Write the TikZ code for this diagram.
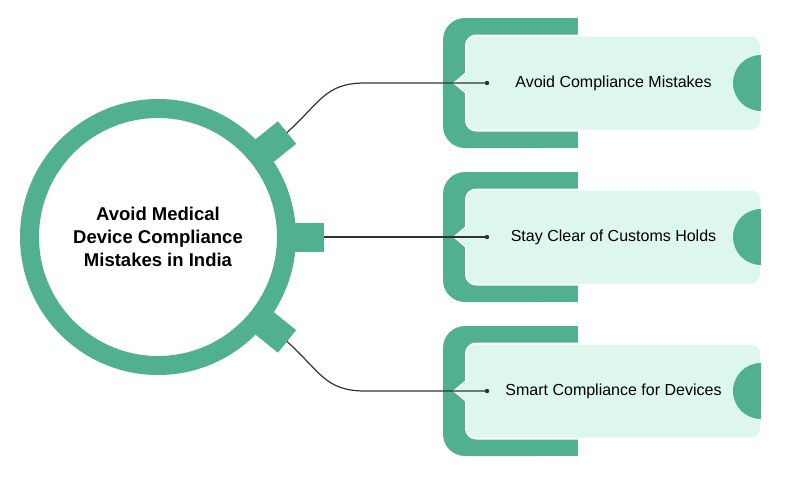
\documentclass[tikz,border=0pt]{standalone}
\usepackage{fontspec}
\setmainfont{Liberation Sans}
\usetikzlibrary{calc}
\usetikzlibrary{positioning}
\definecolor{ringgreen}{HTML}{50B08F}
\definecolor{cardmint}{HTML}{DDF7EC}
\definecolor{linkgray}{HTML}{333333}

\tikzset{
  hub/.style={circle, draw=ringgreen, line width=19pt, minimum size=257pt, fill=white,
    align=center, font=\bfseries\fontsize{18.5}{23}\selectfont},
  tab/.style={fill=ringgreen, minimum width=40pt, minimum height=29pt, inner sep=0pt, outer sep=0pt},
  card/.style={rounded corners=10pt, fill=cardmint, draw=white, line width=2pt,
    minimum width=295pt, minimum height=95pt, outer sep=0pt, font=\fontsize{16}{19}\selectfont},
  backing/.style={fill=ringgreen},
  link/.style={draw=linkgray, line width=1.2pt}
}

\begin{document}
\begin{tikzpicture}[x=1pt, y=-1pt]
\useasboundingbox (0,0) rectangle (805,480);

%hub
\node[hub] (hub) at (158,237) {Avoid Medical\\Device Compliance\\Mistakes in India};
\node[tab, rotate=39] (tabA) at ($(hub.center)+(-39:146)$) {};
\node[tab] (tabB) at ($(hub.center)+(146,0)$) {};
\node[tab, rotate=-39] (tabC) at ($(hub.center)+(39:146)$) {};

%backings
\fill[backing, rounded corners=22pt] (443,18) rectangle (560,148);
\fill[backing] (530,18) rectangle (578,148);
\fill[backing, rounded corners=22pt] (443,172) rectangle (560,302);
\fill[backing] (530,172) rectangle (578,302);
\fill[backing, rounded corners=22pt] (443,326) rectangle (560,456);
\fill[backing] (530,326) rectangle (578,456);

%cards
\node[card] (c1) at (613.5,83) {Avoid Compliance Mistakes};
\node[card] (c2) at (613.5,237) {Stay Clear of Customs Holds};
\node[card] (c3) at (613.5,391) {Smart Compliance for Devices};

%notches
\fill[cardmint] ($(c1.west)+(-12,0)$) -- ($(c1.west)+(2,-10)$) -- ($(c1.west)+(2,10)$) -- cycle;
\draw[white, line width=1.5pt] ($(c1.west)+(0,-10)$) -- ($(c1.west)+(-12,0)$) -- ($(c1.west)+(0,10)$);
\fill[cardmint] ($(c2.west)+(-12,0)$) -- ($(c2.west)+(2,-10)$) -- ($(c2.west)+(2,10)$) -- cycle;
\draw[white, line width=1.5pt] ($(c2.west)+(0,-10)$) -- ($(c2.west)+(-12,0)$) -- ($(c2.west)+(0,10)$);
\fill[cardmint] ($(c3.west)+(-12,0)$) -- ($(c3.west)+(2,-10)$) -- ($(c3.west)+(2,10)$) -- cycle;
\draw[white, line width=1.5pt] ($(c3.west)+(0,-10)$) -- ($(c3.west)+(-12,0)$) -- ($(c3.west)+(0,10)$);

%half discs
\fill[ringgreen] ($(c1.east)+(0,-28)$) arc (-90:-270:28) -- cycle;
\fill[ringgreen] ($(c2.east)+(0,-28)$) arc (-90:-270:28) -- cycle;
\fill[ringgreen] ($(c3.east)+(0,-28)$) arc (-90:-270:28) -- cycle;

%links
\coordinate (d1) at (487,83);
\coordinate (d2) at (487,237);
\coordinate (d3) at (487,391);
\draw[link] (tabA.east) .. controls +(-42:45) and +(-40,0) .. ($(d1)+(-122,0)$) -- (d1);
\draw[link] (tabB.east) -- (d2);
\draw[link] (tabC.east) .. controls +(42:45) and +(-40,0) .. ($(d3)+(-122,0)$) -- (d3);
\fill[linkgray] (d1) circle (2.2);
\fill[linkgray] (d2) circle (2.2);
\fill[linkgray] (d3) circle (2.2);

\end{tikzpicture}
\end{document}
